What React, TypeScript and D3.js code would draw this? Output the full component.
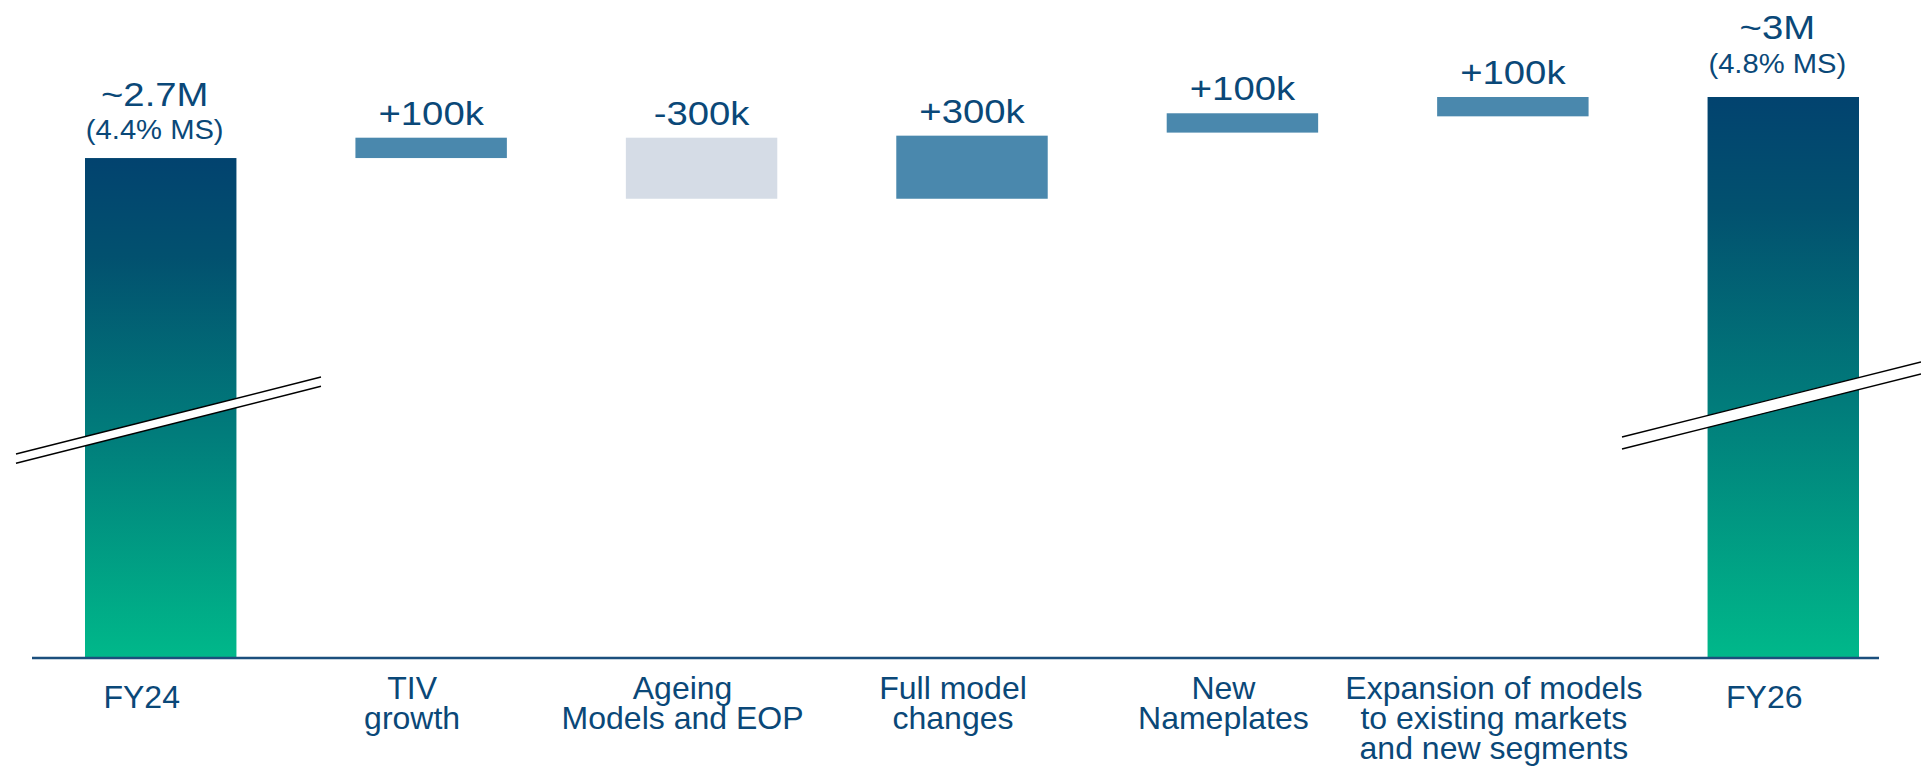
import React from "react";
import * as d3 from "d3";

// ---------- data (values in thousands of units) ----------
const categories = [
  "FY24",
  "TIV\ngrowth",
  "Ageing\nModels and EOP",
  "Full model\nchanges",
  "New\nNameplates",
  "Expansion of models\nto existing markets\nand new segments",
  "FY26",
];
const barKind = ["total", "up", "down", "up", "up", "up", "total"];
const barStart = [null, 2700, 2800, 2500, 2825, 2905, null];
const barEnd = [2700, 2800, 2500, 2810, 2920, 3000, 3000];
const valueLabels = ["~2.7M", "+100k", "-300k", "+300k", "+100k", "+100k", "~3M"];
const shareLabels = ["(4.4% MS)", "", "", "", "", "", "(4.8% MS)"];
const axisBreakBase = 248; // value sitting on the (broken) baseline
const axisTop = 3000;

// ---------- layout ----------
const W = 1921;
const H = 769;
const baseY = 657;
const topY = 97;
const TEXT = "#0a4878";
const FONT = "'Liberation Sans', Arial, Helvetica, sans-serif";
const totalDy: Record<number, [number, number]> = { 0: [-52, -19], 6: [-58, -24] };

export default function App() {
  const x = d3
    .scaleBand<string>()
    .domain(categories)
    .range([85, 1859])
    .paddingInner(0.44)
    .paddingOuter(0);
  const y = d3.scaleLinear().domain([axisBreakBase, axisTop]).range([baseY, topY]);
  const bw = x.bandwidth();

  const breaks = [
    { x1: 16, y1: 454, x2: 321, y2: 377, gap: 9.3 },
    { x1: 1622, y1: 437, x2: 1921, y2: 362, gap: 12 },
  ];

  return (
    <svg
      width={W}
      height={H}
      style={{ position: "absolute", left: 0, top: 0, display: "block", background: "#fff" }}
    >
      <defs>
        <linearGradient id="totGrad" x1="0" y1="0" x2="0" y2="1">
          <stop offset="0" stopColor="#02436f" />
          <stop offset="0.2" stopColor="#02516f" />
          <stop offset="0.55" stopColor="#017c7b" />
          <stop offset="1" stopColor="#00b88a" />
        </linearGradient>
      </defs>

      {categories.map((c, i) => {
        const x0 = x(c)!;
        const kind = barKind[i];
        let yTop: number, yBot: number;
        if (kind === "total") {
          yTop = y(barEnd[i]);
          yBot = y(axisBreakBase);
        } else {
          const a = y(barStart[i] as number);
          const b = y(barEnd[i]);
          yTop = Math.min(a, b);
          yBot = Math.max(a, b);
        }
        const fill =
          kind === "total" ? "url(#totGrad)" : kind === "down" ? "#d5dce6" : "#4a88ad";
        return <rect key={c} x={x0} y={yTop} width={bw} height={yBot - yTop} fill={fill} />;
      })}

      {/* axis break markers */}
      {breaks.map((b, i) => (
        <g key={i}>
          <polygon
            points={`${b.x1},${b.y1} ${b.x2},${b.y2} ${b.x2},${b.y2 + b.gap} ${b.x1},${b.y1 + b.gap}`}
            fill="#fff"
          />
          <line x1={b.x1} y1={b.y1} x2={b.x2} y2={b.y2} stroke="#000" strokeWidth={1.4} />
          <line
            x1={b.x1}
            y1={b.y1 + b.gap}
            x2={b.x2}
            y2={b.y2 + b.gap}
            stroke="#000"
            strokeWidth={1.4}
          />
        </g>
      ))}

      {/* baseline */}
      <line x1={32} x2={1879} y1={658} y2={658} stroke="#1b4f7d" strokeWidth={2.5} />

      {/* value labels */}
      {categories.map((c, i) => {
        const cx = x(c)! + bw / 2;
        const kind = barKind[i];
        if (kind === "total") {
          const t = y(barEnd[i]);
          const [d1, d2] = totalDy[i];
          return (
            <g key={"v" + i} fill={TEXT} fontFamily={FONT}>
              <text
                transform={`translate(${cx - 6},${t + d1}) scale(1.16,1)`}
                textAnchor="middle"
                fontSize={33}
              >
                {valueLabels[i]}
              </text>
              <text
                transform={`translate(${cx - 6},${t + d2}) scale(1.08,1)`}
                textAnchor="middle"
                fontSize={27}
              >
                {shareLabels[i]}
              </text>
            </g>
          );
        }
        const t = Math.min(y(barStart[i] as number), y(barEnd[i]));
        return (
          <text
            key={"v" + i}
            transform={`translate(${cx},${t - 13}) scale(1.16,1)`}
            textAnchor="middle"
            fontSize={33}
            fill={TEXT}
            fontFamily={FONT}
          >
            {valueLabels[i]}
          </text>
        );
      })}

      {/* category labels */}
      {categories.map((c, i) => {
        const cx = x(c)! + bw / 2 - 19;
        const lines = c.split("\n");
        const y0 = lines.length === 1 ? 708 : 699;
        return (
          <text
            key={"c" + i}
            textAnchor="middle"
            fontSize={32}
            fill={TEXT}
            fontFamily={FONT}
          >
            {lines.map((l, j) => (
              <tspan key={j} x={cx} y={y0 + j * 30}>
                {l}
              </tspan>
            ))}
          </text>
        );
      })}
    </svg>
  );
}
